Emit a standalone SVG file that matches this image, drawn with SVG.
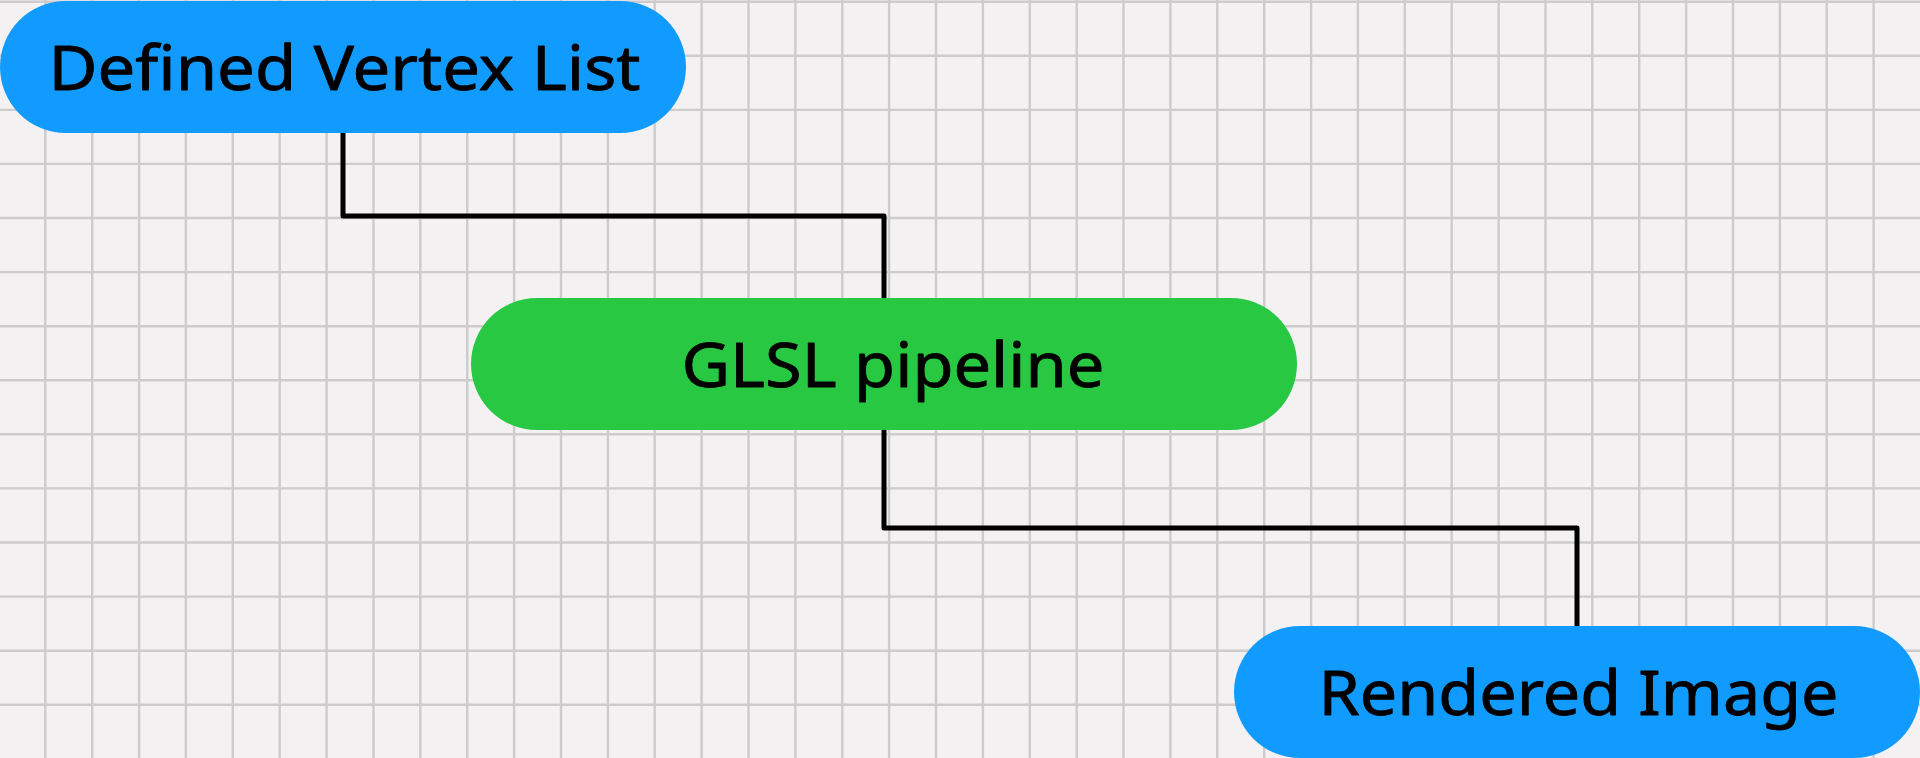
<svg xmlns="http://www.w3.org/2000/svg" width="1920" height="758" viewBox="0 0 1920 758">
  <defs>
    <style>
      .grid line { stroke: #cdcbcc; stroke-width: 2.4; }
      .node-blue { fill: #129bff; }
      .node-green { fill: #28c842; }
      .label { font-family: "Noto Sans", "Lato", sans-serif; font-size: 62px; fill: #000000; stroke: #000000; stroke-width: 0.8; stroke-linejoin: round; text-anchor: middle; }
      .wire { fill: none; stroke: #000000; stroke-width: 5; stroke-linejoin: round; stroke-linecap: butt; }
    </style>
  </defs>

  <!-- canvas background -->
  <rect x="0" y="0" width="1920" height="758" fill="#f3f1f2"/>

  <!-- background grid -->
  <g class="grid">
    <line x1="45.3" y1="0" x2="45.3" y2="758"/>
    <line x1="92.2" y1="0" x2="92.2" y2="758"/>
    <line x1="139.1" y1="0" x2="139.1" y2="758"/>
    <line x1="185.9" y1="0" x2="185.9" y2="758"/>
    <line x1="232.8" y1="0" x2="232.8" y2="758"/>
    <line x1="279.7" y1="0" x2="279.7" y2="758"/>
    <line x1="326.6" y1="0" x2="326.6" y2="758"/>
    <line x1="373.5" y1="0" x2="373.5" y2="758"/>
    <line x1="420.3" y1="0" x2="420.3" y2="758"/>
    <line x1="467.2" y1="0" x2="467.2" y2="758"/>
    <line x1="514.1" y1="0" x2="514.1" y2="758"/>
    <line x1="561.0" y1="0" x2="561.0" y2="758"/>
    <line x1="607.9" y1="0" x2="607.9" y2="758"/>
    <line x1="654.7" y1="0" x2="654.7" y2="758"/>
    <line x1="701.6" y1="0" x2="701.6" y2="758"/>
    <line x1="748.5" y1="0" x2="748.5" y2="758"/>
    <line x1="795.4" y1="0" x2="795.4" y2="758"/>
    <line x1="842.3" y1="0" x2="842.3" y2="758"/>
    <line x1="889.1" y1="0" x2="889.1" y2="758"/>
    <line x1="936.0" y1="0" x2="936.0" y2="758"/>
    <line x1="982.9" y1="0" x2="982.9" y2="758"/>
    <line x1="1029.8" y1="0" x2="1029.8" y2="758"/>
    <line x1="1076.7" y1="0" x2="1076.7" y2="758"/>
    <line x1="1123.5" y1="0" x2="1123.5" y2="758"/>
    <line x1="1170.4" y1="0" x2="1170.4" y2="758"/>
    <line x1="1217.3" y1="0" x2="1217.3" y2="758"/>
    <line x1="1264.2" y1="0" x2="1264.2" y2="758"/>
    <line x1="1311.1" y1="0" x2="1311.1" y2="758"/>
    <line x1="1357.9" y1="0" x2="1357.9" y2="758"/>
    <line x1="1404.8" y1="0" x2="1404.8" y2="758"/>
    <line x1="1451.7" y1="0" x2="1451.7" y2="758"/>
    <line x1="1498.6" y1="0" x2="1498.6" y2="758"/>
    <line x1="1545.5" y1="0" x2="1545.5" y2="758"/>
    <line x1="1592.3" y1="0" x2="1592.3" y2="758"/>
    <line x1="1639.2" y1="0" x2="1639.2" y2="758"/>
    <line x1="1686.1" y1="0" x2="1686.1" y2="758"/>
    <line x1="1733.0" y1="0" x2="1733.0" y2="758"/>
    <line x1="1779.9" y1="0" x2="1779.9" y2="758"/>
    <line x1="1826.7" y1="0" x2="1826.7" y2="758"/>
    <line x1="1873.6" y1="0" x2="1873.6" y2="758"/>
    <line x1="0" y1="1.7" x2="1920" y2="1.7"/>
    <line x1="0" y1="55.8" x2="1920" y2="55.8"/>
    <line x1="0" y1="109.9" x2="1920" y2="109.9"/>
    <line x1="0" y1="163.9" x2="1920" y2="163.9"/>
    <line x1="0" y1="218.0" x2="1920" y2="218.0"/>
    <line x1="0" y1="272.1" x2="1920" y2="272.1"/>
    <line x1="0" y1="326.2" x2="1920" y2="326.2"/>
    <line x1="0" y1="380.3" x2="1920" y2="380.3"/>
    <line x1="0" y1="434.3" x2="1920" y2="434.3"/>
    <line x1="0" y1="488.4" x2="1920" y2="488.4"/>
    <line x1="0" y1="542.5" x2="1920" y2="542.5"/>
    <line x1="0" y1="596.6" x2="1920" y2="596.6"/>
    <line x1="0" y1="650.7" x2="1920" y2="650.7"/>
    <line x1="0" y1="704.7" x2="1920" y2="704.7"/>
  </g>

  <!-- connectors -->
  <g id="connectors">
    <path class="wire" d="M343 133 V216 H884 V298"/>
    <path class="wire" d="M884 430 V528 H1577 V626"/>
  </g>

  <g id="node-vertex-list">
    <rect class="node-blue" x="0" y="1" width="686" height="132" rx="66" ry="66"/>
    <text class="label" x="344.5" y="90" textLength="592" lengthAdjust="spacingAndGlyphs">Defined Vertex List</text>
  </g>

  <g id="node-glsl-pipeline">
    <rect class="node-green" x="471" y="298" width="826" height="132" rx="66" ry="66"/>
    <text class="label" x="893" y="387" textLength="423" lengthAdjust="spacingAndGlyphs">GLSL pipeline</text>
  </g>

  <g id="node-rendered-image">
    <rect class="node-blue" x="1234" y="626" width="686" height="132" rx="66" ry="66"/>
    <text class="label" x="1578.5" y="715" textLength="520" lengthAdjust="spacingAndGlyphs">Rendered Image</text>
  </g>
</svg>
